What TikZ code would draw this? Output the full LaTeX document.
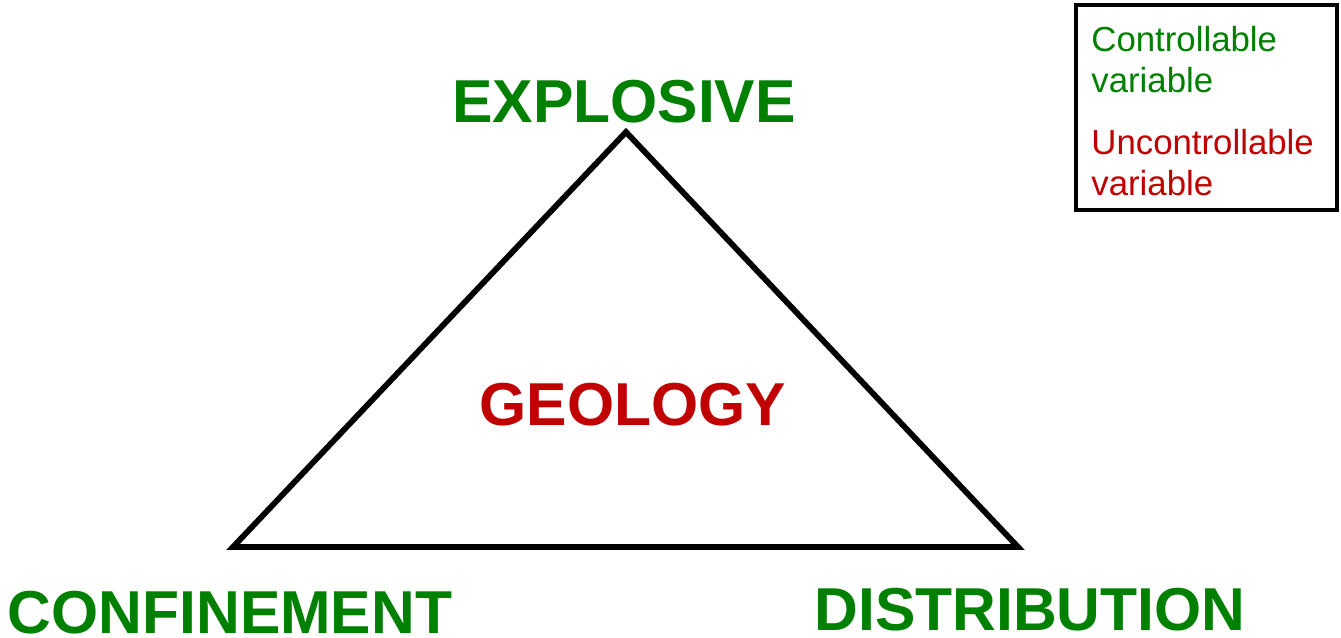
\documentclass[tikz,border=0pt]{standalone}
\usepackage{fontspec}
\setmainfont{Liberation Sans}
\definecolor{ctrlgreen}{RGB}{0,128,0}
\definecolor{unctrlred}{RGB}{192,0,0}

\begin{document}
\begin{tikzpicture}
    [x=0.5pt, y=-0.5pt,
    inner sep=0pt,
    corner/.style={anchor=base, text depth=0pt, font=\fontsize{30.3}{36}\selectfont\bfseries, text=ctrlgreen},
    centre/.style={corner, text=unctrlred},
    side/.style={draw, line width=2.9pt, line join=miter},
    keybox/.style={draw, line width=2pt, minimum width=130.5pt, minimum height=102.5pt},
    keytext/.style={anchor=base west, align=left, font=\fontsize{17.4}{20.5}\selectfont}
    ]
    \useasboundingbox (0,0) rectangle (1341,638);

    % Ecken des Dreiecks
    \coordinate (top) at (626,132);
    \coordinate (left) at (233,547);
    \coordinate (right) at (1018,547);
    \path [side] (top) -- (left) -- (right) -- cycle;

    % Beschriftungen
    \node[corner] (explosive) at (624,122) {EXPLOSIVE};
    \node[corner] (confinement) at (230,633) {CONFINEMENT};
    \node[corner] (distribution) at (1030,630) {DISTRIBUTION};
    \node[centre] (geology) at (633,425) {GEOLOGY};

    % Legende
    \node[keybox] (key) at (1206.5,107.5) {};
    \node[keytext, text=ctrlgreen] (ctrl) at (1091,92) {Controllable\\variable};
    \node[keytext, text=unctrlred] (unctrl) at (1091,195) {Uncontrollable\\variable};
\end{tikzpicture}
\end{document}
